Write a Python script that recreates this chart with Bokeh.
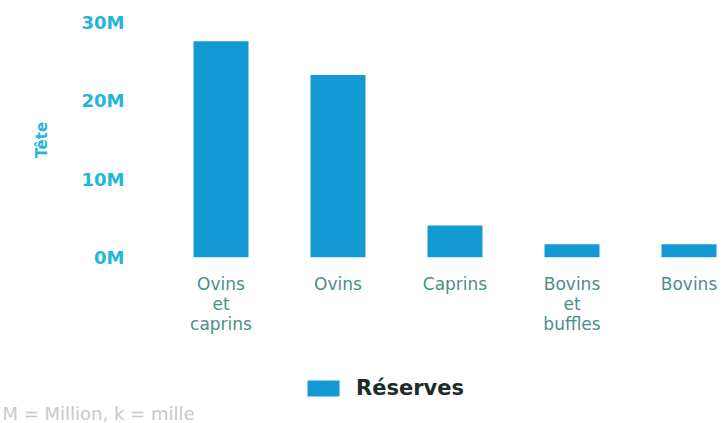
from bokeh.plotting import figure
from bokeh.layouts import column
from bokeh.models import Range1d, Legend, LegendItem, Title, FixedTicker, ColumnDataSource
from bokeh.embed import file_html
from bokeh.resources import INLINE

categories = ["Ovins\net\ncaprins", "Ovins", "Caprins", "Bovins\net\nbuffles", "Bovins"]
reserves = [27.6e6, 23.3e6, 4.1e6, 1.7e6, 1.7e6]
y_ticks = [0, 10000000, 20000000, 30000000]
y_tick_labels = ["0M", "10M", "20M", "30M"]
series_name = "Réserves"
y_title = "Tête"
footnote = "M = Million, k = mille"

xs = list(range(len(categories)))
src = ColumnDataSource(dict(x=xs, top=reserves))

BLUE = "#1399d3"
CYAN = "#22b6da"

p = figure(width=727, height=340, x_range=Range1d(-0.5, 4.329), y_range=Range1d(0, 30000000),
           output_backend="svg", toolbar_location=None,
           min_border_left=162, min_border_right=0, min_border_top=22, min_border_bottom=83)
p.outline_line_color = None
p.xgrid.visible = False
p.ygrid.visible = False

r = p.vbar(x="x", top="top", width=0.47, source=src, fill_color=BLUE, line_color=None)

# y axis
p.yaxis.ticker = FixedTicker(ticks=y_ticks)
p.yaxis.major_label_overrides = {t: l for t, l in zip(y_ticks, y_tick_labels)}
p.yaxis.axis_line_color = None
p.yaxis.major_tick_line_color = None
p.yaxis.minor_tick_line_color = None
p.yaxis.major_label_standoff = 32
p.yaxis.major_label_text_font = "DejaVu Sans"
p.yaxis.major_label_text_font_style = "bold"
p.yaxis.major_label_text_font_size = "18px"
p.yaxis.major_label_text_color = CYAN
p.yaxis.axis_label = y_title
p.yaxis.axis_label_text_font = "DejaVu Sans"
p.yaxis.axis_label_text_font_style = "bold"
p.yaxis.axis_label_text_font_size = "15px"
p.yaxis.axis_label_text_color = CYAN
p.yaxis.axis_label_standoff = 28

# x axis
p.xaxis.ticker = FixedTicker(ticks=xs)
p.xaxis.major_label_overrides = {i: c for i, c in zip(xs, categories)}
p.xaxis.axis_line_color = None
p.xaxis.major_tick_line_color = None
p.xaxis.minor_tick_line_color = None
p.xaxis.major_label_standoff = 10
p.xaxis.major_label_text_font = "DejaVu Sans"
p.xaxis.major_label_text_font_size = "17px"
p.xaxis.major_label_text_line_height = 1.0
p.xaxis.major_label_text_color = "#4a8f88"

# bottom strip: legend and footnote (its frame is aligned with the main frame)
p2 = figure(width=727, height=83, x_range=Range1d(0, 1), y_range=Range1d(0, 1),
            output_backend="svg", toolbar_location=None,
            min_border_left=0, min_border_right=0, min_border_top=0, min_border_bottom=0)
p2.axis.visible = False
p2.grid.visible = False
p2.outline_line_color = None
r2 = p2.vbar(x="x", top="top", width=0.47, source=src, fill_color=BLUE, line_color=None,
             visible=False)

legend = Legend(items=[LegendItem(label=series_name, renderers=[r2])], orientation="horizontal",
                glyph_width=40, glyph_height=20, label_text_font="DejaVu Sans",
                label_text_font_style="bold", label_text_font_size="21px",
                label_text_color="#1d2b2b", border_line_color=None, background_fill_alpha=0,
                padding=0, margin=0, label_standoff=13, location=(141, 0))
p2.add_layout(legend, "center")

note = Title(text=footnote, align="left", offset=-160, standoff=0, text_line_height=0.75,
             text_font="DejaVu Sans", text_font_size="18px", text_font_style="normal",
             text_color="#c5c9c9")
p2.add_layout(note, "below")

layout = column(p, p2, spacing=0)
open("out.html", "w").write(file_html(layout, INLINE))
